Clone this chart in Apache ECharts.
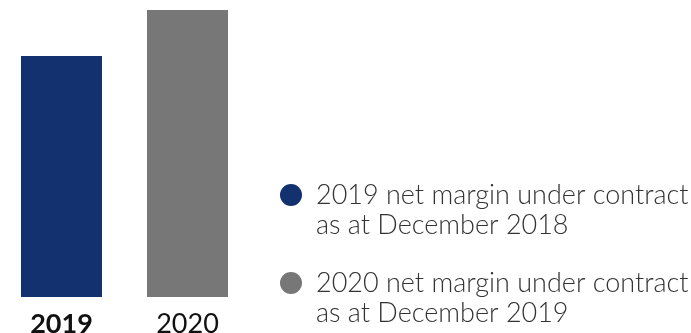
<!DOCTYPE html>
<html><head><meta charset="utf-8">
<script src="https://cdn.jsdelivr.net/npm/echarts@6/dist/echarts.min.js"></script>
<style>html,body{margin:0;padding:0;background:#fff}#c{width:691px;height:333px}</style>
</head><body><div id="c"></div>
<script>
const categories = ['2019', '2020'];
const values = [84, 100];
const colors = ['#13306f', '#777777'];
const legendNames = ['2019 net margin under contract\nas at December 2018', '2020 net margin under contract\nas at December 2019'];

const chart = echarts.init(document.getElementById('c'), null, {renderer: 'canvas'});
chart.setOption({
  animation: false,
  grid: {left: -1.5, width: 252, top: 10, bottom: 36, containLabel: false, outerBoundsMode: 'none'},
  xAxis: {
    type: 'category', data: categories,
    axisLine: {show: false}, axisTick: {show: false},
    axisLabel: {
      interval: 0, hideOverlap: false,
      margin: 14, fontSize: 27, color: '#111', fontFamily: 'Lato',
      formatter: (v, i) => i === 0 ? '{b|' + v + '}' : '{n|' + v + '}',
      rich: {
        b: {fontSize: 27, fontWeight: 'bold', color: '#111', fontFamily: 'Lato'},
        n: {fontSize: 27, fontWeight: 'normal', color: '#111', fontFamily: 'Lato'}
      }
    }
  },
  yAxis: {type: 'value', min: 0, max: 100, show: false, splitLine: {show: false}},
  legend: {
    orient: 'vertical', left: 280, top: 150, padding: 0, itemWidth: 22, itemHeight: 22, itemGap: -2,
    icon: 'circle', selectedMode: false,
    formatter: name => ' \n' + name,
    textStyle: {fontSize: 27, lineHeight: 30, color: '#333', fontFamily: 'Lato', fontWeight: 300, padding: [0, 0, 0, 9]},
    data: legendNames
  },
  series: legendNames.map((name, i) => ({
    name: name, type: 'bar', barWidth: 81, barGap: '-100%',
    itemStyle: {color: colors[i]},
    data: categories.map((c, j) => j === i ? values[j] : null)
  }))
});
</script></body></html>
